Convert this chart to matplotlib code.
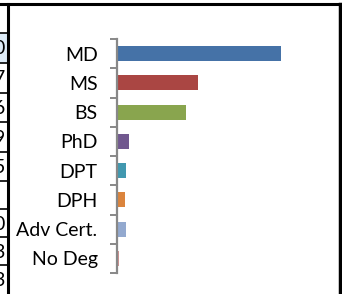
import matplotlib.pyplot as plt
from matplotlib.lines import Line2D

# chart data (bar lengths only)
categories = ["MD", "MS", "BS", "PhD", "DPT", "DPH", "Adv Cert.", "No Deg"]
values = [164, 81, 69, 12, 9, 8, 9, 2]
colors = ["#4572A7", "#AA4643", "#89A54E", "#71588F",
          "#4198AF", "#DB843D", "#93A9CF", "#D19392"]

# spreadsheet cells peeking out on the left
side_digits = ["", "0", "7", "6", "9", "5", "", "0", "3", "3"]
side_rows = [4, 33, 63, 93, 122, 152, 181, 209, 237, 265, 294]

W, H = 342, 294
fig = plt.figure(figsize=(W / 100, H / 100), dpi=100)
fig.patch.set_facecolor("white")

# overlay in pixel coordinates for the sheet frame
bg = fig.add_axes([0, 0, 1, 1])
bg.set_xlim(0, W)
bg.set_ylim(H, 0)
bg.axis("off")

# highlighted cell
bg.fill_between([0, 8], 33, 63, color="#DDEBF7", lw=0)
for i, d in enumerate(side_digits):
    y0, y1 = side_rows[i], side_rows[i + 1]
    if d:
        bg.text(5, (y0 + y1) / 2 + 1, d, ha="right", va="center",
                fontsize=14, family="Lato", color="black")
for y in side_rows[1:-1]:
    bg.add_line(Line2D([0, 8], [y, y], color="black", lw=1.2))
bg.add_line(Line2D([0, W], [4, 4], color="black", lw=2.2))
bg.add_line(Line2D([8, 8], [4, H], color="black", lw=2.2))
bg.add_line(Line2D([339.5, 339.5], [4, H], color="black", lw=2.5))

# bar chart
left, right = 117, 335
top, bottom = 39, 273
ax = fig.add_axes([left / W, (H - bottom) / H, (right - left) / W, (bottom - top) / H])
ax.patch.set_alpha(0)
ypos = list(range(len(categories)))
ax.barh(ypos, values, height=0.52, color=colors)
ax.set_xlim(0, right - left)
ax.set_ylim(len(categories) - 0.5, -0.5)

for s in ["top", "right", "bottom"]:
    ax.spines[s].set_visible(False)
ax.spines["left"].set_color("#888888")
ax.spines["left"].set_linewidth(1.6)
ax.set_xticks([])

ax.set_yticks([p - 0.5 for p in ypos] + [len(categories) - 0.5])
ax.set_yticklabels([])
ax.tick_params(axis="y", which="major", length=5, width=1.4, color="#888888", direction="out")
ax.set_yticks(ypos, minor=True)
ax.set_yticklabels(categories, minor=True, fontsize=14, family="Lato")
ax.tick_params(axis="y", which="minor", length=0, pad=14)

fig.savefig("out.png", dpi=100)
